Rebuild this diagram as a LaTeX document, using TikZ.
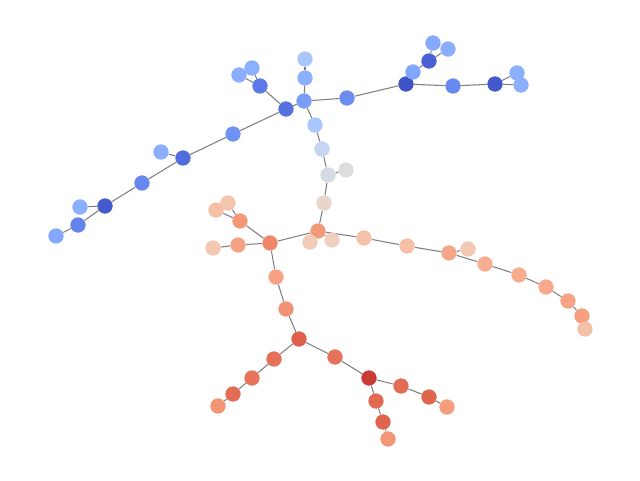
\documentclass[tikz,border=0pt]{standalone}
\usetikzlibrary{backgrounds}
\definecolor{edgec}{HTML}{808080}
\definecolor{cA1}{HTML}{A9C6FD}
\definecolor{cA2}{HTML}{8DB0FE}
\definecolor{cA3}{HTML}{7A9DF8}
\definecolor{cH}{HTML}{5572DF}
\definecolor{cB1}{HTML}{5B7AE5}
\definecolor{cB2}{HTML}{8CAFFE}
\definecolor{cB3}{HTML}{8BADFD}
\definecolor{cC1}{HTML}{6B8DF0}
\definecolor{cD}{HTML}{3F53C6}
\definecolor{cE1}{HTML}{82A6FB}
\definecolor{cE2}{HTML}{4961D2}
\definecolor{cE3}{HTML}{86A9FC}
\definecolor{cE4}{HTML}{8BADFD}
\definecolor{cF}{HTML}{6788EE}
\definecolor{cG}{HTML}{4358CB}
\definecolor{cG1}{HTML}{8DB0FE}
\definecolor{cG2}{HTML}{8CAFFE}
\definecolor{cL1}{HTML}{A9C6FD}
\definecolor{cL2}{HTML}{C5D6F2}
\definecolor{cM}{HTML}{D5DBE5}
\definecolor{cM1}{HTML}{DCDDDD}
\definecolor{cN}{HTML}{E9D5CB}
\definecolor{cO}{HTML}{F4987A}
\definecolor{cO1}{HTML}{EFCFBF}
\definecolor{cO2}{HTML}{F2CBB7}
\definecolor{cP1}{HTML}{F5C1A9}
\definecolor{cP2}{HTML}{F6BFA6}
\definecolor{cP3}{HTML}{F4A688}
\definecolor{cP3a}{HTML}{F2C9B4}
\definecolor{cP4}{HTML}{F7AF91}
\definecolor{cP5}{HTML}{F7AC8E}
\definecolor{cP6}{HTML}{F7A98B}
\definecolor{cP7}{HTML}{F6A385}
\definecolor{cP8}{HTML}{F59F80}
\definecolor{cP9}{HTML}{F2C1A8}
\definecolor{cR}{HTML}{EF886B}
\definecolor{cR1}{HTML}{F4987A}
\definecolor{cR1a}{HTML}{F5C0A7}
\definecolor{cR1b}{HTML}{F4C5AD}
\definecolor{cR2}{HTML}{F6A385}
\definecolor{cR2a}{HTML}{F3C7B1}
\definecolor{cS1}{HTML}{F6A283}
\definecolor{cS2}{HTML}{F29274}
\definecolor{cT}{HTML}{DE604D}
\definecolor{cU1}{HTML}{E57058}
\definecolor{cU2}{HTML}{E7745B}
\definecolor{cU3}{HTML}{E36C55}
\definecolor{cU4}{HTML}{F39475}
\definecolor{cV1}{HTML}{E67259}
\definecolor{cW}{HTML}{CA3B37}
\definecolor{cW1}{HTML}{E36C55}
\definecolor{cW2}{HTML}{E0654F}
\definecolor{cW3}{HTML}{F59C7D}
\definecolor{cX1}{HTML}{E26952}
\definecolor{cX2}{HTML}{E0654F}
\definecolor{cX3}{HTML}{F39577}
\definecolor{cK1}{HTML}{7093F3}
\definecolor{cK2}{HTML}{516DDB}
\definecolor{cK2a}{HTML}{8CAFFE}
\definecolor{cK3}{HTML}{6687ED}
\definecolor{cK4}{HTML}{445ACC}
\definecolor{cK4a}{HTML}{8CAFFE}
\definecolor{cK5}{HTML}{6384EB}
\definecolor{cK6}{HTML}{85A8FC}
\tikzset{vtx/.style={circle, fill=#1, draw=none, minimum size=11.5pt, inner sep=0pt},
  lnk/.style={draw=edgec, line width=0.8pt}}
\begin{document}
\begin{tikzpicture}[x=0.75pt, y=-0.75pt]
\useasboundingbox (-1,-1) rectangle (639,479);
\foreach \n/\x/\y in {A1/304/58, A2/304/77, A3/303/100, H/285/108, B1/259/85, B2/251/67, B3/238/74,
  C1/346/97, D/405/83, E1/412/71, E2/428/60, E3/432/42, E4/447/48, F/452/85, G/494/83, G1/516/72, G2/520/84,
  L1/314/124, L2/321/148, M/327/174, M1/345/169, N/323/202, O/317/230, O1/331/239, O2/309/241,
  P1/363/237, P2/406/245, P3/448/252, P3a/467/248, P4/484/263, P5/518/274, P6/545/286, P7/567/300, P8/581/315, P9/584/328,
  R/269/242, R1/239/220, R1a/215/209, R1b/227/202, R2/237/244, R2a/212/247, S1/275/276, S2/285/308,
  T/298/338, U1/273/358, U2/251/377, U3/232/393, U4/217/405, V1/334/356, W/368/377, W1/400/385, W2/428/396, W3/446/406,
  X1/375/400, X2/382/421, X3/387/438,
  K1/232/133, K2/182/157, K2a/160/151, K3/141/182, K4/104/205, K4a/79/206, K5/77/224, K6/55/235}
  {\node[vtx=c\n] (\n) at (\x,\y) {};}
\begin{scope}[on background layer]
\foreach \a/\b in {A1/A2, A2/A3, H/A3, H/B1, B1/B2, B1/B3, A3/C1, C1/D, D/E1, E1/E2, E2/E3, E2/E4, D/F, F/G, G/G1, G/G2,
  A3/L1, L1/L2, L2/M, M/M1, M/N, N/O, O/O1, O/O2, O/P1, P1/P2, P2/P3, P3/P3a, P3/P4, P4/P5, P5/P6, P6/P7, P7/P8, P8/P9,
  O/R, R/R1, R1/R1a, R1/R1b, R/R2, R2/R2a, R/S1, S1/S2, S2/T, T/U1, U1/U2, U2/U3, U3/U4, T/V1, V1/W, W/W1, W1/W2, W2/W3,
  W/X1, X1/X2, X2/X3, H/K1, K1/K2, K2/K2a, K2/K3, K3/K4, K4/K4a, K4/K5, K5/K6}
  {\draw[lnk] (\a) -- (\b);}
\end{scope}
\end{tikzpicture}
\end{document}
